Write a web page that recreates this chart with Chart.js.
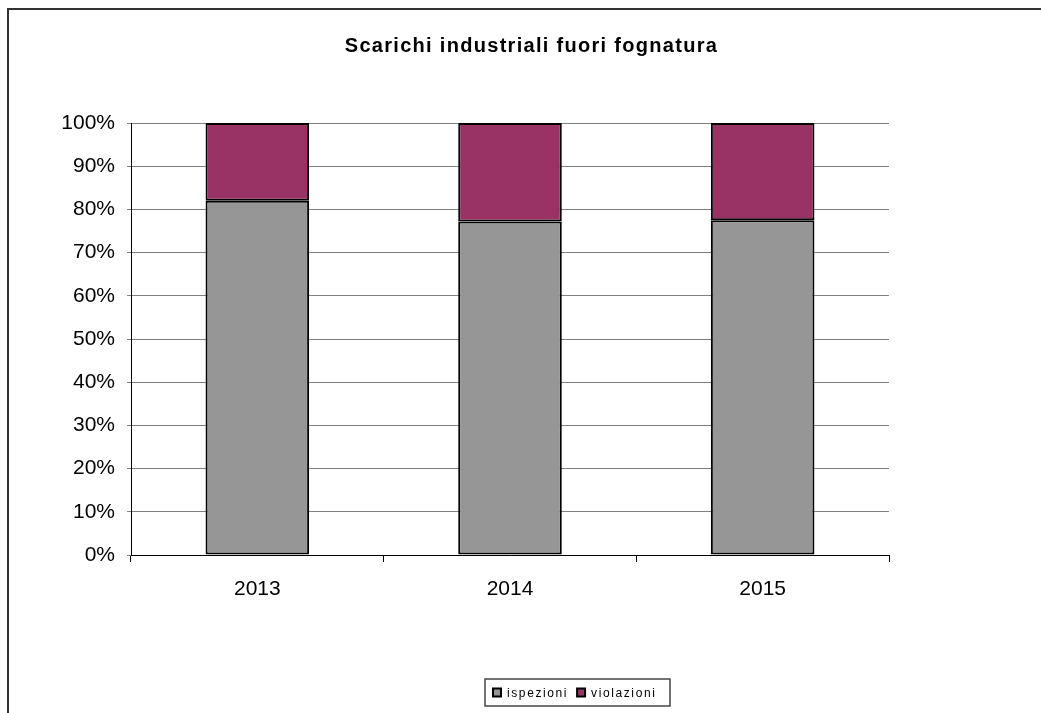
<!DOCTYPE html>
<html>
<head>
<meta charset="utf-8">
<script src="https://cdn.jsdelivr.net/npm/chart.js@4/dist/chart.umd.min.js"></script>
<style>
  html, body { margin: 0; padding: 0; background: #fff; }
  #wrap { width: 1041px; height: 713px; position: relative; }
</style>
</head>
<body>
<div id="wrap"><canvas id="chart"></canvas></div>
<script>
// Scarichi industriali fuori fognatura: quota ispezioni / violazioni per anno (%)
const years = ["2013", "2014", "2015"];
const ispezioni = [82.0, 77.2, 77.5];
const violazioni = [18.0, 22.8, 22.5];
const yMin = 0, yMax = 100, yStep = 10;
const chartTitle = "Scarichi industriali fuori fognatura";

const FONT = "'Liberation Sans', Arial, sans-serif";

// thin frame around the whole chart object (only top and left edges fall inside the page)
const frame = {
  id: "frame",
  beforeDraw(chart) {
    const { ctx, width, height } = chart;
    ctx.save();
    ctx.strokeStyle = "#333";
    ctx.lineWidth = 2;
    ctx.beginPath();
    ctx.moveTo(8, height);
    ctx.lineTo(8, 9);
    ctx.lineTo(width, 9);
    ctx.stroke();
    ctx.restore();
  },
};

// title centred on the whole object, slightly spaced out
const spacedTitle = {
  id: "spacedTitle",
  afterDraw(chart) {
    const ctx = chart.ctx;
    ctx.save();
    ctx.font = "bold 20px " + FONT;
    ctx.letterSpacing = "1.3px";
    ctx.fillStyle = "#000";
    ctx.textBaseline = "middle";
    const w = ctx.measureText(chartTitle).width;
    ctx.fillText(chartTitle, chart.width / 2 + 11 - w / 2, 46);
    ctx.restore();
  },
};

// boxed legend with spaced-out labels, built from the datasets
const boxLegend = {
  id: "boxLegend",
  afterDraw(chart) {
    const ctx = chart.ctx;
    const x0 = 485, y0 = 679, w = 185, h = 27;
    ctx.save();
    ctx.strokeStyle = "#444";
    ctx.lineWidth = 1.5;
    ctx.strokeRect(x0, y0, w, h);

    ctx.font = "12px " + FONT;
    ctx.letterSpacing = "1.6px";
    ctx.textBaseline = "middle";
    let x = x0 + 8;
    const cy = y0 + h / 2;
    chart.data.datasets.forEach((ds) => {
      ctx.fillStyle = ds.backgroundColor;
      ctx.fillRect(x, cy - 4, 8, 8);
      ctx.strokeStyle = "#000";
      ctx.lineWidth = 2;
      ctx.strokeRect(x, cy - 4, 8, 8);
      x += 14;
      ctx.fillStyle = "#000";
      ctx.fillText(ds.label, x, cy + 1);
      x += ctx.measureText(ds.label).width + 9;
    });
    ctx.restore();
  },
};

new Chart(document.getElementById("chart"), {
  type: "bar",
  data: {
    labels: years,
    datasets: [
      {
        label: "ispezioni",
        data: ispezioni,
        backgroundColor: "#969696",
        borderColor: "#000",
        borderWidth: 2,
        borderSkipped: false,
      },
      {
        label: "violazioni",
        data: violazioni,
        backgroundColor: "#993366",
        borderColor: "#000",
        borderWidth: 2,
        borderSkipped: false,
      },
    ],
  },
  options: {
    responsive: true,
    maintainAspectRatio: false,
    animation: false,
    layout: { padding: { top: 123, right: 152, bottom: 0, left: 0 } },
    datasets: { bar: { categoryPercentage: 1, barPercentage: 0.41 } },
    plugins: {
      legend: { display: false },
      tooltip: { enabled: false },
      title: { display: false },
    },
    scales: {
      x: {
        stacked: true,
        grid: { drawOnChartArea: false, drawTicks: true, tickLength: 7, color: "#000" },
        border: { color: "#000", width: 1 },
        ticks: { color: "#000", padding: 15, font: { family: FONT, size: 21 } },
        afterFit(scale) { scale.height = 158; },
      },
      y: {
        stacked: true,
        min: yMin,
        max: yMax,
        grid: { color: "#808080", tickLength: 4 },
        border: { color: "#000", width: 1 },
        ticks: {
          stepSize: yStep,
          color: "#000",
          padding: 12,
          font: { family: FONT, size: 21 },
          callback: (v) => v + "%",
        },
        afterFit(scale) { scale.width = 131; },
      },
    },
  },
  plugins: [frame, spacedTitle, boxLegend],
});
</script>
</body>
</html>
